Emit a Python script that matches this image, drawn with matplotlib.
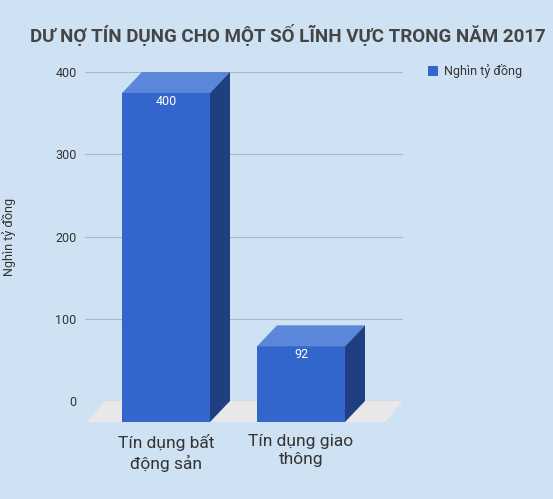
import matplotlib.pyplot as plt
from matplotlib.patches import Polygon

categories = ["Tín dụng bất\nđộng sản", "Tín dụng giao\nthông"]
values = [400, 92]
yticks = [0, 100, 200, 300, 400]
series_name = "Nghìn tỷ đồng"

plt.rcParams['font.family'] = ['Roboto', 'DejaVu Sans']
W, H = 553, 499
bg = "#cfe2f3"
fig = plt.figure(figsize=(W / 100, H / 100), dpi=100, facecolor=bg)

# axes covers back plane: x 85..403 px, y 72..401 px
ax = fig.add_axes([85 / W, 1 - 401 / H, 318 / W, 329 / H])
ax.set_facecolor("none")
ax.set_xlim(-0.6, 318 / 135 - 0.6)
ax.set_ylim(0, 400)
ax.set_yticks(yticks)
ax.tick_params(length=0, labelsize=9, colors="#333333", pad=6)
ax.set_xticks([])
ax.grid(axis="y", color="#aab8c4", lw=0.8)
for s in ax.spines.values():
    s.set_visible(False)
ax.set_ylabel(series_name, fontsize=9, color="#333333", labelpad=28)

dx = 20 / 135
dy = 21 / 0.8225
width = 88 / 135

# floor
px = lambda x: (x - 85) / 135 - 0.6
floor = Polygon([(px(87), -dy), (px(385), -dy), (px(403), 0), (px(105), 0)],
                closed=True, fc="#e8e8e8", ec="none", clip_on=False, zorder=1)
ax.add_patch(floor)

for i, v in enumerate(values):
    x0 = i - width / 2 + 0.0
    x1 = x0 + width
    b = -dy
    t = v - dy
    front = Polygon([(x0, b), (x1, b), (x1, t), (x0, t)], fc="#3366cc", ec="none",
                    clip_on=False, zorder=3)
    top = Polygon([(x0, t), (x1, t), (x1 + dx, t + dy), (x0 + dx, t + dy)], fc="#5b87db",
                  ec="none", clip_on=False, zorder=3)
    side = Polygon([(x1, b), (x1 + dx, b + dy), (x1 + dx, t + dy), (x1, t)], fc="#1f3f80",
                   ec="none", clip_on=False, zorder=3)
    for p in (front, top, side):
        ax.add_patch(p)
    ax.text(i, t - 10, str(v), ha="center", va="center", color="white", fontsize=9, zorder=4)
    ax.text(i, -dy - 14, categories[i], ha="center", va="top", fontsize=12.5,
            color="#333333", linespacing=1.3)

fig.text(30 / W, 1 - 35 / H, "DƯ NỢ TÍN DỤNG CHO MỘT SỐ LĨNH VỰC TRONG NĂM 2017",
         fontsize=13.5, fontweight="bold", color="#454545", va="center")

fig.patches.append(plt.Rectangle((428 / W, 1 - 76 / H), 10 / W, 10 / H, fc="#3366cc",
                                 transform=fig.transFigure, figure=fig))
fig.text(444 / W, 1 - 71 / H, series_name, fontsize=9, color="#333333", va="center")

fig.savefig("out.png", dpi=100, facecolor=bg)
